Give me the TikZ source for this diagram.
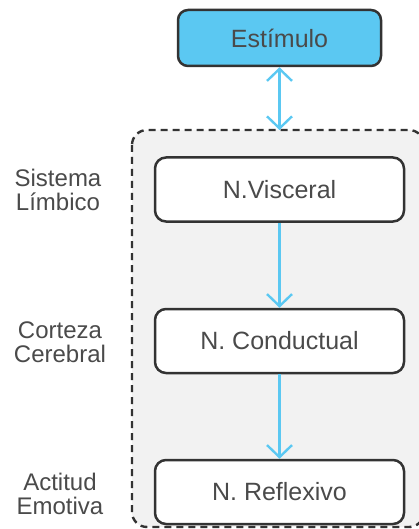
\documentclass[tikz,border=0pt]{standalone}
\usepackage{fontspec}
\setmainfont{Liberation Sans}
\usetikzlibrary{arrows.meta}
\definecolor{skyblue}{HTML}{5BC8F2}
\definecolor{edgegray}{HTML}{333333}
\definecolor{textgray}{HTML}{4A4A4A}
\definecolor{panelgray}{HTML}{F2F2F2}
\begin{document}
\begin{tikzpicture}[x=1pt,y=-1pt,
  levelbox/.style={draw=edgegray, line width=2.5pt, rounded corners=11pt,
    fill=white, minimum width=249pt, minimum height=64pt, inner sep=0pt,
    text=textgray, font=\fontsize{25}{30}\selectfont},
  sidelabel/.style={align=center, text=textgray, inner sep=0pt,
    font=\fontsize{24}{24.5}\selectfont},
  flow/.style={skyblue, line width=2.4pt,
    -{Straight Barb[length=12pt,width=25pt,line width=2.4pt]}},
  flowboth/.style={skyblue, line width=2.4pt,
    {Straight Barb[length=12pt,width=25pt,line width=2.4pt]}-{Straight Barb[length=12pt,width=25pt,line width=2.4pt]}}]
  \useasboundingbox (0,0) rectangle (419,529);
  \clip (0,0) rectangle (419,529);

  % dashed panel holding the three levels
  \draw[edgegray, fill=panelgray, line width=2.4pt, dash pattern=on 7pt off 5pt,
        rounded corners=15pt] (132,130) rectangle (424,527);
  \coordinate (paneltop) at (279.5,130);

  % stimulus
  \node[levelbox, fill=skyblue, minimum width=203pt, minimum height=56pt,
        rounded corners=10pt] (estimulo) at (279.5,38) {Estímulo};

  % levels
  \node[levelbox] (visceral)   at (279.5,189.5) {N.Visceral};
  \node[levelbox] (conductual) at (279.5,341)   {N. Conductual};
  \node[levelbox] (reflexivo)  at (279.5,492)   {N. Reflexivo};

  % side labels
  \node[sidelabel] (limbico) at (58,190) {Sistema\\Límbico};
  \node[sidelabel] (corteza) at (60,342) {Corteza\\Cerebral};
  \node[sidelabel] (actitud) at (60,494) {Actitud\\Emotiva};

  % connectors
  \draw[flowboth] (estimulo.south) -- (paneltop);
  \draw[flow] (visceral.south) -- (conductual.north);
  \draw[flow] (conductual.south) -- (reflexivo.north);
\end{tikzpicture}
\end{document}
